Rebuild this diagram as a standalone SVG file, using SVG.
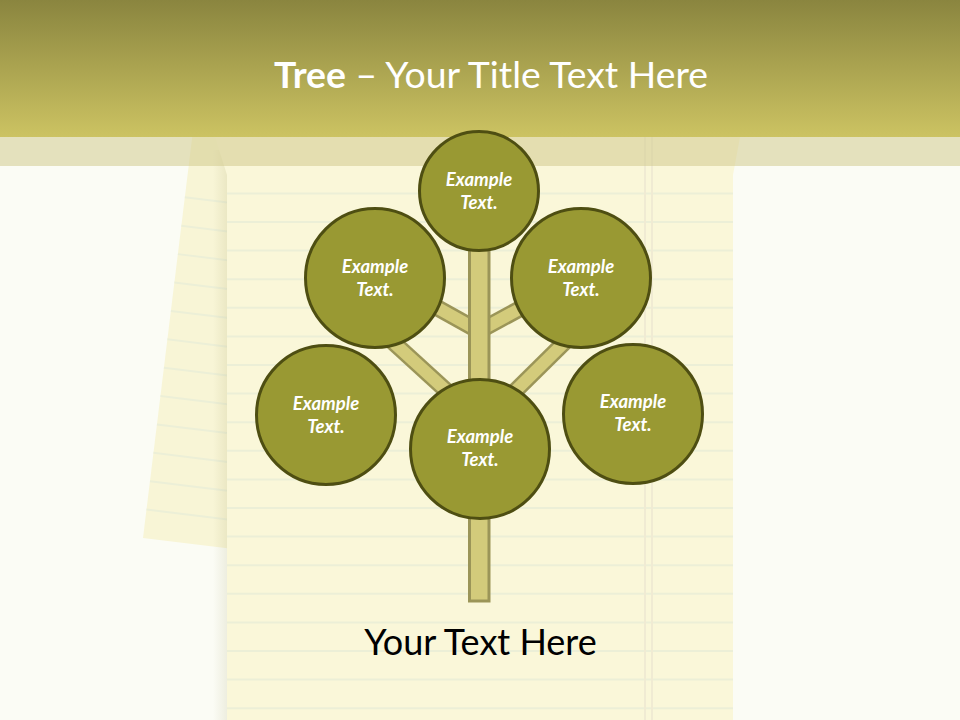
<svg xmlns="http://www.w3.org/2000/svg" width="960" height="720" viewBox="0 0 960 720">
<defs>
<linearGradient id="hdr" x1="0" y1="0" x2="0" y2="1">
<stop offset="0" stop-color="#8a853f"/>
<stop offset="1" stop-color="#ccc362"/>
</linearGradient>
<linearGradient id="shL" x1="0" y1="0" x2="1" y2="0">
<stop offset="0" stop-color="#8a8540" stop-opacity="0"/>
<stop offset="1" stop-color="#8a8540" stop-opacity="0.12"/>
</linearGradient>
<style>
.node{fill:#999933;stroke:#4e4e12;stroke-width:3}
.lbl{font-family:Lato,"Open Sans",sans-serif;font-weight:bold;font-style:italic;font-size:18.5px;fill:#ffffff;text-anchor:middle}
.rule{stroke:#ecefd7;stroke-width:2}
.brO{stroke:#9b9558;stroke-width:17;stroke-linecap:butt}
.brI{stroke:#d3cb7b;stroke-width:12;stroke-linecap:butt}
.margin{stroke:#f0ebd3;stroke-width:2}
</style>
</defs>
<rect x="0" y="0" width="960" height="720" fill="#fbfcf5"/>
<!-- back sheet -->
<g transform="rotate(7 143 538)">
<rect x="143" y="60" width="120" height="478" fill="#f8f5d6"/>
<g class="rule">
<line x1="143" y1="509.4" x2="263" y2="509.4"/>
<line x1="143" y1="480.8" x2="263" y2="480.8"/>
<line x1="143" y1="452.2" x2="263" y2="452.2"/>
<line x1="143" y1="423.6" x2="263" y2="423.6"/>
<line x1="143" y1="395" x2="263" y2="395"/>
<line x1="143" y1="366.4" x2="263" y2="366.4"/>
<line x1="143" y1="337.8" x2="263" y2="337.8"/>
<line x1="143" y1="309.2" x2="263" y2="309.2"/>
<line x1="143" y1="280.6" x2="263" y2="280.6"/>
<line x1="143" y1="252" x2="263" y2="252"/>
<line x1="143" y1="223.4" x2="263" y2="223.4"/>
<line x1="143" y1="194.8" x2="263" y2="194.8"/>
</g>
</g>
<rect x="213" y="150" width="14" height="570" fill="url(#shL)"/>
<!-- main paper -->
<path d="M215 137 L740 137 L733 175 L733 720 L227 720 L227 175 Z" fill="#faf7d9"/>
<g class="rule">
<line x1="227" y1="193.4" x2="733" y2="193.4"/>
<line x1="227" y1="222" x2="733" y2="222"/>
<line x1="227" y1="250.6" x2="733" y2="250.6"/>
<line x1="227" y1="279.2" x2="733" y2="279.2"/>
<line x1="227" y1="307.8" x2="733" y2="307.8"/>
<line x1="227" y1="336.4" x2="733" y2="336.4"/>
<line x1="227" y1="365" x2="733" y2="365"/>
<line x1="227" y1="393.6" x2="733" y2="393.6"/>
<line x1="227" y1="422.2" x2="733" y2="422.2"/>
<line x1="227" y1="450.8" x2="733" y2="450.8"/>
<line x1="227" y1="479.4" x2="733" y2="479.4"/>
<line x1="227" y1="508" x2="733" y2="508"/>
<line x1="227" y1="536.6" x2="733" y2="536.6"/>
<line x1="227" y1="565.2" x2="733" y2="565.2"/>
<line x1="227" y1="593.8" x2="733" y2="593.8"/>
<line x1="227" y1="622.4" x2="733" y2="622.4"/>
<line x1="227" y1="651" x2="733" y2="651"/>
<line x1="227" y1="679.6" x2="733" y2="679.6"/>
<line x1="227" y1="708.2" x2="733" y2="708.2"/>
</g>
<g class="margin">
<line x1="645" y1="137" x2="645" y2="720"/>
<line x1="652" y1="137" x2="652" y2="720"/>
</g>
<!-- header -->
<rect x="0" y="0" width="960" height="137" fill="url(#hdr)"/>
<rect x="0" y="137" width="960" height="29" fill="#d2cb8e" opacity="0.55"/>
<text x="491" y="88" text-anchor="middle" font-family="Lato,'Open Sans',sans-serif" font-size="37" fill="#ffffff" textLength="434" lengthAdjust="spacingAndGlyphs"><tspan font-weight="bold">Tree</tspan> – Your Title Text Here</text>
<!-- connectors -->
<g id="connectors">
<line class="brO" x1="479" y1="331" x2="400" y2="287"/>
<line class="brI" x1="479" y1="331" x2="400" y2="287"/>
<line class="brO" x1="479" y1="331" x2="560" y2="287"/>
<line class="brI" x1="479" y1="331" x2="560" y2="287"/>
<line class="brO" x1="382" y1="332" x2="462" y2="405"/>
<line class="brI" x1="382" y1="332" x2="462" y2="405"/>
<line class="brO" x1="577" y1="330" x2="499" y2="407"/>
<line class="brI" x1="577" y1="330" x2="499" y2="407"/>
<rect x="469.5" y="245" width="19.5" height="356" fill="#d3cb7b" stroke="#9b9558" stroke-width="3"/>
</g>
<!-- nodes -->
<g id="node-top">
<circle class="node" cx="479" cy="191" r="59.5"/>
<text class="lbl" x="479" y="186">Example</text>
<text class="lbl" x="479" y="209">Text.</text>
</g>
<g id="node-upper-left">
<circle class="node" cx="375" cy="278" r="69.5"/>
<text class="lbl" x="375" y="273">Example</text>
<text class="lbl" x="375" y="296">Text.</text>
</g>
<g id="node-upper-right">
<circle class="node" cx="581" cy="278" r="69.5"/>
<text class="lbl" x="581" y="273">Example</text>
<text class="lbl" x="581" y="296">Text.</text>
</g>
<g id="node-lower-left">
<circle class="node" cx="326" cy="415" r="69.5"/>
<text class="lbl" x="326" y="410">Example</text>
<text class="lbl" x="326" y="433">Text.</text>
</g>
<g id="node-lower-right">
<circle class="node" cx="633" cy="414" r="69.5"/>
<text class="lbl" x="633" y="408">Example</text>
<text class="lbl" x="633" y="431">Text.</text>
</g>
<g id="node-center">
<circle class="node" cx="480" cy="449" r="69.5"/>
<text class="lbl" x="480" y="443">Example</text>
<text class="lbl" x="480" y="466">Text.</text>
</g>
<text x="480.5" y="655" text-anchor="middle" font-family="Lato,'Open Sans',sans-serif" font-size="36" fill="#000000">Your Text Here</text>
</svg>
